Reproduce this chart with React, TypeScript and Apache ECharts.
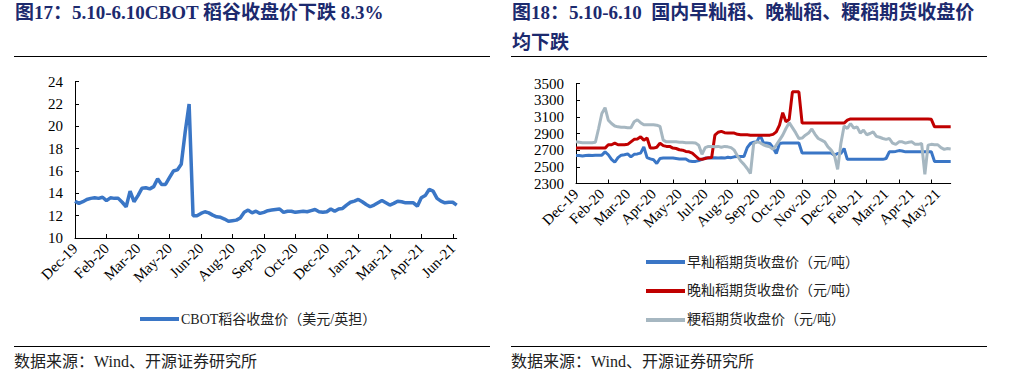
import React, { useEffect, useRef } from 'react';
import * as echarts from 'echarts';

// ---------- Left chart data (CBOT rough rice close, USD/cwt) ----------
const CBOT_TICK_LABELS = ['Dec-19', 'Feb-20', 'Mar-20', 'May-20', 'Jun-20', 'Aug-20', 'Sep-20', 'Oct-20', 'Dec-20', 'Jan-21', 'Mar-21', 'Apr-21', 'Jun-21'];
const CBOT_NAME = 'CBOT稻谷收盘价（美元/英担）';
const CBOT_PRICE = [
  13.3, 13.1, 13.25, 13.45, 13.55, 13.6, 13.55, 13.65, 13.35, 13.6,
  13.55, 13.55, 13.2, 12.8, 14.2, 13.25, 13.8, 14.45, 14.5, 14.4,
  14.6, 15.3, 14.8, 14.8, 15.4, 16.0, 16.1, 16.6, 19.5, 22.0,
  12.0, 12.0, 12.2, 12.35, 12.25, 12.05, 11.9, 11.85, 11.7, 11.5,
  11.55, 11.6, 11.8, 12.3, 12.5, 12.25, 12.4, 12.2, 12.3, 12.45,
  12.5, 12.55, 12.6, 12.3, 12.4, 12.4, 12.3, 12.35, 12.4, 12.35,
  12.45, 12.55, 12.35, 12.3, 12.35, 12.6, 12.4, 12.6, 12.65, 12.95,
  13.2, 13.3, 13.45, 13.25, 13.0, 12.8, 12.95, 13.15, 13.35, 13.15,
  12.95, 13.1, 13.3, 13.25, 13.15, 13.15, 13.15, 12.85, 13.6, 13.8,
  14.35, 14.2, 13.55, 13.3, 13.15, 13.2, 13.2, 12.95,
];
const CBOT_Y_MIN = 10;
const CBOT_Y_MAX = 24;
const CBOT_Y_STEP = 2;

// ---------- Right chart data (domestic rice futures close, CNY/t) ----------
const RICE_TICK_LABELS = ['Dec-19', 'Feb-20', 'Mar-20', 'Apr-20', 'May-20', 'Jul-20', 'Aug-20', 'Sep-20', 'Oct-20', 'Nov-20', 'Dec-20', 'Feb-21', 'Mar-21', 'Apr-21', 'May-21'];
const EARLY_NAME = '早籼稻期货收盘价（元/吨）';
const LATE_NAME = '晚籼稻期货收盘价（元/吨）';
const JAPONICA_NAME = '粳稻期货收盘价（元/吨）';
const EARLY_INDICA = [
  2635, 2635, 2630, 2635, 2640, 2635, 2640, 2640, 2640, 2680,
  2645, 2590, 2555, 2610, 2640, 2645, 2655, 2620, 2650, 2655,
  2665, 2740, 2610, 2595, 2585, 2540, 2600, 2605, 2605, 2605,
  2605, 2600, 2595, 2595, 2595, 2570, 2565, 2565, 2575, 2590,
  2605, 2605, 2605, 2610, 2605, 2610, 2605, 2615, 2610, 2620,
  2625, 2625, 2625, 2730, 2780, 2795, 2800, 2880, 2790, 2785,
  2780, 2730, 2660, 2780, 2785, 2785, 2785, 2785, 2785, 2785,
  2665, 2665, 2665, 2665, 2665, 2665, 2665, 2665, 2665, 2665,
  2640, 2660, 2660, 2720, 2590, 2590, 2590, 2590, 2590, 2590,
  2590, 2590, 2590, 2590, 2590, 2590, 2600, 2680, 2680, 2685,
  2695, 2690, 2680, 2680, 2680, 2680, 2680, 2680, 2680, 2680,
  2680, 2565, 2565, 2565, 2565, 2565, 2565,
];
const LATE_INDICA = [
  2725, 2725, 2725, 2725, 2725, 2725, 2725, 2725, 2725, 2725,
  2765, 2765, 2785, 2765, 2765, 2765, 2770, 2800, 2830, 2835,
  2860, 2820, 2845, 2725, 2725, 2735, 2785, 2755, 2745, 2745,
  2725, 2720, 2705, 2700, 2685, 2680, 2665, 2630, 2595, 2590,
  2600, 2610, 2612, 2880, 2915, 2925, 2910, 2905, 2905, 2905,
  2890, 2885, 2885, 2885, 2880, 2880, 2880, 2880, 2880, 2880,
  2880, 2890, 2920, 3000, 3150, 3040, 3070, 3400, 3400, 3400,
  3025, 3025, 3025, 3025, 3025, 3025, 3025, 3025, 3025, 3025,
  3025, 3025, 3025, 3025, 3060, 3075, 3075, 3075, 3075, 3075,
  3075, 3075, 3075, 3075, 3075, 3075, 3075, 3075, 3075, 3075,
  3075, 3075, 3075, 3075, 3075, 3075, 3075, 3075, 3075, 3075,
  3070, 2980, 2980, 2980, 2980, 2980, 2980,
];
const JAPONICA = [
  2800, 2795, 2790, 2790, 2790, 2790, 2795, 2960, 3140, 3210,
  3060, 3020, 2990, 2980, 2975, 2975, 2970, 2970, 3040, 3065,
  3030, 3005, 3005, 3005, 3005, 3000, 2985, 2820, 2800, 2800,
  2800, 2800, 2795, 2795, 2790, 2790, 2790, 2785, 2760, 2650,
  2730, 2745, 2745, 2740, 2745, 2735, 2745, 2740, 2730, 2700,
  2630, 2570, 2530, 2480, 2420, 2780, 2800, 2790, 2765, 2750,
  2740, 2710, 2760, 2820, 2880, 2960, 3030, 2970, 2910, 2840,
  2845, 2880, 2905, 2955, 2890, 2840, 2820, 2800, 2740, 2700,
  2640, 2470, 2780, 2990, 2960, 3020, 2965, 2980, 2905, 2940,
  2885, 2900, 2920, 2865, 2855, 2840, 2830, 2840, 2785, 2770,
  2800, 2800, 2785, 2795, 2800, 2770, 2770, 2780, 2410, 2760,
  2770, 2765, 2765, 2730, 2710, 2720, 2715,
];
const RICE_Y_MIN = 2300;
const RICE_Y_MAX = 3500;
const RICE_Y_STEP = 200;

const TITLE_LEFT = '图17：5.10-6.10CBOT 稻谷收盘价下跌 8.3%';
const TITLE_RIGHT_1 = '图18：5.10-6.10  国内早籼稻、晚籼稻、粳稻期货收盘价';
const TITLE_RIGHT_2 = '均下跌';
const SOURCE_TEXT = '数据来源：Wind、开源证券研究所';

const BLUE = '#3A76C6';
const RED = '#C00000';
const GREY = '#A6B7C1';
const NAVY = '#1C2A6E';
const SERIF = "'Liberation Serif', 'Times New Roman', 'Noto Sans CJK SC', serif";
const CJK = "'Liberation Serif', 'Noto Sans CJK SC', sans-serif";

export default function App() {
  const ref = useRef<HTMLDivElement>(null);

  useEffect(() => {
    if (!ref.current) return;
    const chart = echarts.init(ref.current, undefined, { renderer: 'svg' });

    const cbotCats = CBOT_PRICE.map((_, i) => String(i));
    const riceCats = EARLY_INDICA.map((_, i) => String(i));

    const axisText = { color: '#000', fontFamily: SERIF, fontSize: 15 };
    const axisLineStyle = { color: '#000', width: 1 };

    const option: any = {
      animation: false,
      backgroundColor: '#ffffff',
      grid: [
        { left: 75, top: 81.7, width: 381.7, height: 156.3, containLabel: false },
        { left: 576, top: 83.5, width: 374.7, height: 100, containLabel: false },
      ],
      xAxis: [
        {
          type: 'category', gridIndex: 0, data: cbotCats, boundaryGap: false,
          axisLine: { lineStyle: axisLineStyle },
          axisTick: { show: true, inside: true, interval: 7, length: 4, lineStyle: axisLineStyle },
          axisLabel: {
            ...axisText, interval: 7, rotate: 45, margin: 8,
            formatter: (_v: string, i: number) => CBOT_TICK_LABELS[i / 8] ?? '',
          },
          splitLine: { show: false },
        },
        {
          type: 'category', gridIndex: 1, data: riceCats, boundaryGap: false,
          axisLine: { lineStyle: axisLineStyle },
          axisTick: { show: true, inside: true, interval: 9, length: 4, lineStyle: axisLineStyle },
          axisLabel: {
            ...axisText, interval: 7, rotate: 45, margin: 8,
            formatter: (_v: string, i: number) => RICE_TICK_LABELS[i / 8] ?? '',
          },
          splitLine: { show: false },
        },
      ],
      yAxis: [
        {
          type: 'value', gridIndex: 0, min: CBOT_Y_MIN, max: CBOT_Y_MAX, interval: CBOT_Y_STEP,
          axisLine: { show: true, lineStyle: axisLineStyle },
          axisTick: { show: true, inside: true, length: 4, lineStyle: axisLineStyle },
          axisLabel: { ...axisText, margin: 12, formatter: (v: number) => String(v) },
          splitLine: { show: false },
        },
        {
          type: 'value', gridIndex: 1, min: RICE_Y_MIN, max: RICE_Y_MAX, interval: RICE_Y_STEP,
          axisLine: { show: true, lineStyle: axisLineStyle },
          axisTick: { show: true, inside: true, length: 4, lineStyle: axisLineStyle },
          axisLabel: { ...axisText, margin: 12, formatter: (v: number) => String(v) },
          splitLine: { show: false },
        },
      ],
      legend: [
        {
          data: [CBOT_NAME], left: 135, top: 307, icon: 'rect', itemWidth: 39, itemHeight: 4,
          textStyle: { fontFamily: CJK, fontSize: 14, color: '#222', padding: [0, 0, 0, -3] },
          selectedMode: false,
        },
        {
          data: [EARLY_NAME, LATE_NAME, JAPONICA_NAME], orient: 'vertical', left: 641, top: 250,
          icon: 'rect', itemWidth: 39, itemHeight: 4, itemGap: 15,
          textStyle: { fontFamily: CJK, fontSize: 14, color: '#222', padding: [0, 0, 0, -3] },
          selectedMode: false,
        },
      ],
      series: [
        {
          name: CBOT_NAME, type: 'line', xAxisIndex: 0, yAxisIndex: 0, data: CBOT_PRICE,
          symbol: 'none', lineStyle: { color: BLUE, width: 3.5 }, itemStyle: { color: BLUE },
        },
        {
          name: EARLY_NAME, type: 'line', xAxisIndex: 1, yAxisIndex: 1, data: EARLY_INDICA,
          symbol: 'none', lineStyle: { color: BLUE, width: 3 }, itemStyle: { color: BLUE },
        },
        {
          name: LATE_NAME, type: 'line', xAxisIndex: 1, yAxisIndex: 1, data: LATE_INDICA,
          symbol: 'none', lineStyle: { color: RED, width: 3 }, itemStyle: { color: RED },
        },
        {
          name: JAPONICA_NAME, type: 'line', xAxisIndex: 1, yAxisIndex: 1, data: JAPONICA,
          symbol: 'none', lineStyle: { color: GREY, width: 3 }, itemStyle: { color: GREY },
        },
      ],
      graphic: [
        {
          type: 'text', left: 15, top: 3,
          style: { text: TITLE_LEFT, fontFamily: SERIF, fontWeight: 'bold', fontSize: 19, fill: NAVY },
        },
        {
          type: 'text', left: 512, top: 3,
          style: { text: TITLE_RIGHT_1, fontFamily: SERIF, fontWeight: 'bold', fontSize: 19, fill: NAVY },
        },
        {
          type: 'text', left: 512, top: 33,
          style: { text: TITLE_RIGHT_2, fontFamily: SERIF, fontWeight: 'bold', fontSize: 19, fill: NAVY },
        },
        { type: 'line', shape: { x1: 14, y1: 56.5, x2: 490, y2: 56.5 }, style: { stroke: '#000', lineWidth: 1 } },
        { type: 'line', shape: { x1: 511, y1: 56.5, x2: 987, y2: 56.5 }, style: { stroke: '#000', lineWidth: 1 } },
        { type: 'line', shape: { x1: 14, y1: 346.5, x2: 490, y2: 346.5 }, style: { stroke: '#000', lineWidth: 1 } },
        { type: 'line', shape: { x1: 511, y1: 346.5, x2: 987, y2: 346.5 }, style: { stroke: '#000', lineWidth: 1 } },
        {
          type: 'text', left: 14, top: 353,
          style: { text: SOURCE_TEXT, fontFamily: CJK, fontSize: 16, fill: '#222' },
        },
        {
          type: 'text', left: 511, top: 353,
          style: { text: SOURCE_TEXT, fontFamily: CJK, fontSize: 16, fill: '#222' },
        },
      ],
    };

    chart.setOption(option);
    return () => chart.dispose();
  }, []);

  return (
    <div
      ref={ref}
      style={{ position: 'fixed', left: 0, top: 0, width: 1009, height: 388, background: '#fff' }}
    />
  );
}
